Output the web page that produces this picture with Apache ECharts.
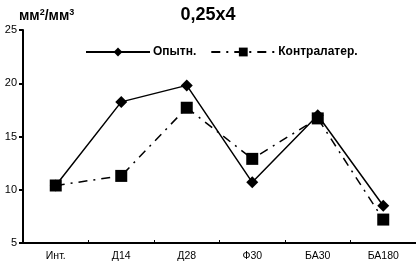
<!DOCTYPE html>
<html><head><meta charset="utf-8">
<script src="https://cdn.jsdelivr.net/npm/echarts@6/dist/echarts.min.js"></script>
<style>html,body{margin:0;padding:0;background:#fff}#c{width:416px;height:263px}</style>
</head><body><div id="c"></div>
<script>
const categories = ['Инт.', 'Д14', 'Д28', 'Ф30', 'БА30', 'БА180'];
const opytn = [10.4, 18.25, 19.8, 10.7, 17.0, 8.5];
const kontr = [10.4, 11.3, 17.7, 12.9, 16.7, 7.2];
const yTicks = [5, 10, 15, 20, 25];
const seriesNames = ['Опытн.', 'Контралатер.'];
const chart = echarts.init(document.getElementById('c'));
const F = 'Liberation Sans, Arial, sans-serif';
chart.setOption({
  animation: false,
  title: [{
    text: '0,25x4', left: 'center', top: 1,
    textStyle: {fontFamily: F, fontSize: 18, fontWeight: 'bold', color: '#000'}
  }, {
    text: '{a|мм}{s|2}{a|/мм}{s|3}', left: 14, top: 3,
    textStyle: {rich: {
      a: {fontFamily: F, fontSize: 14, color: '#000', verticalAlign: 'bottom'},
      s: {fontFamily: F, fontSize: 9, color: '#000', verticalAlign: 'top', padding: [0,0,6,0]}
    }}
  }],
  legend: {
    top: 41, left: 80, itemGap: 14, itemWidth: 64, itemHeight: 11,
    data: seriesNames,
    textStyle: {fontFamily: F, fontSize: 12, fontWeight: 'bold', color: '#000', padding: [0,0,0,-2]}
  },
  grid: {left: 23, right: 0, top: 30, bottom: 20},
  xAxis: {
    type: 'category', data: categories, boundaryGap: true,
    axisLine: {lineStyle: {color: '#000', width: 2}},
    axisTick: {show: true, inside: true, length: 3, lineStyle: {color: '#000'}},
    axisLabel: {fontFamily: F, fontSize: 10.5, color: '#000', margin: 8}
  },
  yAxis: {
    type: 'value', min: yTicks[0], max: yTicks[yTicks.length-1], interval: 5,
    splitLine: {show: false},
    axisLine: {show: true, lineStyle: {color: '#000', width: 2}},
    axisTick: {show: true, length: 4, lineStyle: {color: '#000', width: 2}},
    axisLabel: {fontFamily: F, fontSize: 11, color: '#000', margin: 6}
  },
  series: [{
    name: seriesNames[0], type: 'line', data: opytn, symbol: 'diamond', symbolSize: 12,
    z: 3,
    lineStyle: {color: '#000', width: 1.5}, itemStyle: {color: '#000'}
  }, {
    name: seriesNames[1], type: 'line', data: kontr, symbol: 'square', symbolSize: 12,
    z: 2,
    lineStyle: {color: '#000', width: 1.5, type: [9, 6, 2, 6]}, itemStyle: {color: '#000'}
  }]
});
</script></body></html>
